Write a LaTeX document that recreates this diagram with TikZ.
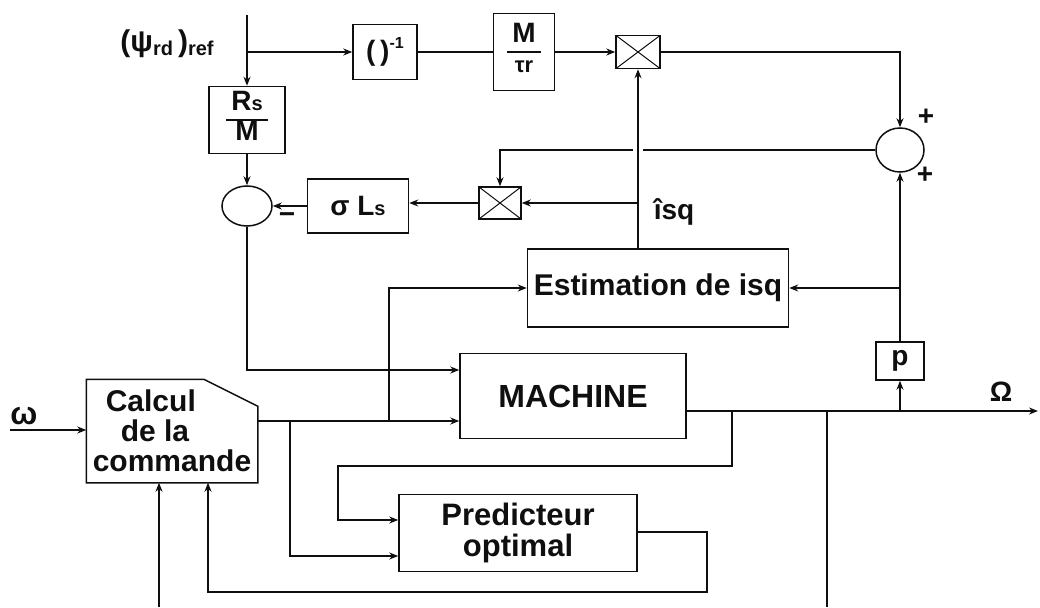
\documentclass[tikz,border=0pt]{standalone}
\usepackage{fontspec}
\setmainfont{Liberation Sans}
\usepackage{tikz}
\usetikzlibrary{shapes.geometric, arrows.meta, positioning, calc}
\definecolor{mydark}{RGB}{15,15,15}
\setlength{\arrayrulewidth}{1.5pt}
\newcommand{\fracbox}[2]{\begin{tabular}{@{\hspace{5pt}}c@{\hspace{5pt}}}#1\\\hline #2\end{tabular}}
\tikzset{
  block/.style={rectangle, draw=mydark, line width=1.5pt, inner sep=0pt,
    align=center, text=mydark, font=\bfseries\fontsize{28}{28}\selectfont},
  bigblock/.style={block, font=\bfseries\fontsize{30}{27}\selectfont},
  sumjunc/.style={ellipse, draw=mydark, line width=1.5pt, inner sep=0pt},
  multbox/.style={rectangle, draw=mydark, line width=1.5pt, inner sep=0pt,
    path picture={\draw[line width=1pt, color=mydark]
      (path picture bounding box.north west) -- (path picture bounding box.south east)
      (path picture bounding box.south west) -- (path picture bounding box.north east);}},
  txt/.style={text=mydark, inner sep=0pt, font=\bfseries\fontsize{28}{28}\selectfont},
  sign/.style={text=mydark, inner sep=0pt, font=\bfseries\fontsize{28}{28}\selectfont},
  arrow/.style={-{Stealth[length=9pt, width=7pt]}, line width=1.5pt, color=mydark},
  line/.style={line width=1.5pt, color=mydark},
  hop/.style={preaction={draw=white, line width=10pt, -, shorten <=60pt, shorten >=40pt}}
}
\begin{document}
\begin{tikzpicture}[x=1pt, y=-1pt]
  \useasboundingbox (0,0) rectangle (1040,607);

  % Flux reference part
  \coordinate (psiin) at (247,15);
  \node[txt, font=\bfseries\fontsize{30}{30}\selectfont] (psilbl) at (167,44)
    {(ψ{\fontsize{20}{20}\selectfont\raisebox{-4pt}{rd}}\,){\fontsize{20}{20}\selectfont\raisebox{-4pt}{ref}}};
  \node[block, minimum width=64pt, minimum height=55pt] (inv) at (385,52)
    {(\,)\raisebox{12pt}{\fontsize{16}{16}\selectfont -1}};
  \node[block, minimum width=61pt, minimum height=77pt] (gain) at (524,52)
    {\fracbox{M}{\fontsize{22}{24}\selectfont τr}};
  \node[multbox, minimum width=44pt, minimum height=33pt] (mult1) at (638,52) {};
  \node[block, minimum width=76pt, minimum height=67pt] (rsm) at (247,120)
    {\fracbox{R{\fontsize{20}{20}\selectfont s}}{M}};
  \node[sumjunc, minimum width=50pt, minimum height=40pt] (sum2) at (247,206) {};
  \node[block, minimum width=101pt, minimum height=54pt] (sigls) at (358,206)
    {σ L{\fontsize{20}{20}\selectfont s}};
  \node[multbox, minimum width=42pt, minimum height=32pt] (mult2) at (500,203) {};
  \node[sumjunc, minimum width=48pt, minimum height=44pt] (sum1) at (900,150) {};
  \node[sign] (plus1) at (926,117) {+};
  \node[sign] (plus2) at (925,175) {+};
  \node[sign] (minus) at (287,218) {−};
  \node[txt] (isqlbl) at (674,212) {îsq};

  % Main blocks
  \node[bigblock, minimum width=261pt, minimum height=78pt] (estim) at (658,288) {Estimation de isq};
  \node[bigblock, font=\bfseries\fontsize{32}{32}\selectfont, minimum width=226pt, minimum height=85pt] (machine) at (573,396) {MACHINE};
  \node[bigblock, font=\bfseries\fontsize{31}{31}\selectfont, minimum width=238pt, minimum height=77pt] (pred) at (518,533) {Predicteur\\optimal};
  \node[block, minimum width=48pt, minimum height=38pt] (pgain) at (900,361) {p};
  \node[bigblock, font=\bfseries\fontsize{30}{30}\selectfont, draw=none, align=left, minimum width=170pt, minimum height=102pt] (calcul) at (172,431)
    {\hspace*{13pt}Calcul\\\hspace*{28pt}de la\\commande};
  \draw[line] (calcul.south west) -- (calcul.north west) -- ($(calcul.north east)+(-54,0)$)
    -- ($(calcul.north east)+(0,27)$) -- (calcul.south east) -- cycle;

  % Inputs and output
  \coordinate (omegain) at (10,430);
  \coordinate (omegaout) at (1038,411);
  \node[txt, font=\bfseries\fontsize{32}{32}\selectfont] (wlbl) at (24,416) {ω};
  \node[txt] (Wlbl) at (1001,392) {Ω};
  \draw[arrow] (omegain) -- (calcul.west |- omegain);

  % Flux branch
  \draw[arrow] (psiin) -- (rsm.north);
  \draw[arrow] (psiin |- inv.west) -- (inv.west);
  \draw[line] (inv.east) -- (gain.west);
  \draw[arrow] (gain.east) -- (mult1.west);
  \draw[arrow] (mult1.east) -| (sum1.north);
  \draw[arrow] (sum1.west) -| (mult2.north);
  \draw[arrow, hop] (mult1.south |- estim.north) -- (mult1.south);
  \draw[arrow] (mult1.south |- mult2.east) -- (mult2.east);
  \draw[arrow] (mult2.west) -- (mult2.west -| sigls.east);
  \draw[arrow] (sigls.west) -- (sum2.east);
  \draw[arrow] (rsm.south) -- (sum2.north);
  \draw[arrow] (sum2.south) |- ($(machine.west)+(0,-26)$);

  % Control to machine, estimator and predictor
  \coordinate (cout) at (257,421);
  \coordinate (b1) at (290,421);
  \coordinate (b2) at (389,421);
  \draw[arrow] (cout) -- (cout -| machine.west);
  \draw[arrow] (b2) |- (estim.west);
  \draw[arrow] (b1) |- ($(pred.west)+(0,23)$);

  % Speed output branches
  \coordinate (mout) at ($(machine.east)+(0,15)$);
  \coordinate (j1) at (732,411);
  \coordinate (j2) at (827,411);
  \coordinate (j3) at (900,411);
  \coordinate (fbot1) at (827,607);
  \coordinate (fbot2) at (159,607);
  \draw[arrow] (mout) -- (omegaout);
  \draw[arrow] (j1) |- (338,466) |- ($(pred.west)+(0,-13)$);
  \draw[line] (j2) -- (fbot1);
  \draw[arrow] (j3) -- (pgain.south);
  \draw[arrow] (pgain.north) -- (sum1.south);
  \draw[arrow] (pgain.north |- estim.east) -- (estim.east);

  % Feedback to control
  \draw[arrow] ($(pred.east)+(0,-1)$) -| (707,592) -| ($(calcul.south)+(36,0)$);
  \draw[arrow] (fbot2) -- ($(calcul.south)+(-13,0)$);
\end{tikzpicture}
\end{document}
